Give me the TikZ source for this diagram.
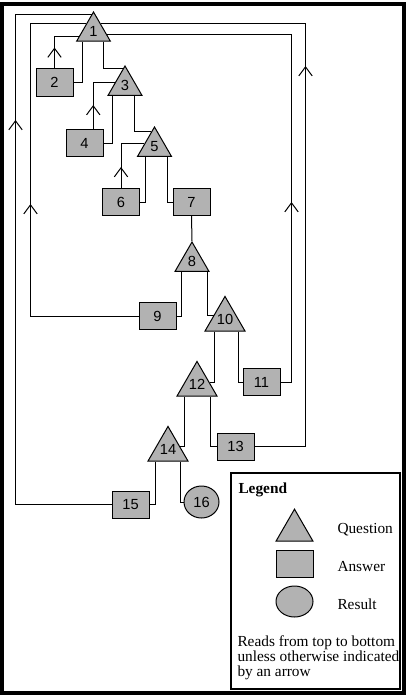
\documentclass[tikz,border=0pt]{standalone}
\usepackage{fontspec}
\setmainfont{Liberation Serif}
\newfontfamily\numfont{Liberation Sans}
\usepackage{tikz}
\usetikzlibrary{arrows.meta, positioning, shapes.geometric, calc, decorations.markings}

\tikzset{
    question/.style={regular polygon, regular polygon sides=3, draw, fill=gray!60,
        inner sep=0pt, minimum size=29.25pt, font=\numfont\fontsize{11}{13}\selectfont},
    answer/.style={rectangle, draw, fill=gray!60, inner sep=0pt,
        minimum width=27.75pt, minimum height=20.25pt, font=\numfont\fontsize{11}{13}\selectfont},
    result/.style={ellipse, draw, fill=gray!60, inner sep=0pt,
        minimum width=26.25pt, minimum height=24pt, font=\numfont\fontsize{11}{13}\selectfont},
    uparrow/.style={postaction={decorate, decoration={markings,
        mark=at position #1 with {\arrow{Straight Barb[length=6.75pt, width=10pt]}}}}},
    legendtext/.style={anchor=base west, inner sep=0pt, font=\fontsize{11.5}{11.25}\selectfont},
}

\begin{document}
\begin{tikzpicture}[x=0.75pt, y=-0.75pt, line width=0.75pt]
    % Page and frame (pixel units, y downwards)
    \useasboundingbox (0,0) rectangle (408,699);
    \draw[line width=3pt] (2,4) rectangle (403.5,692.5);

    % Questions
    \node[question] (t1)  at (93.5,31.5)  {1};
    \node[question] (t3)  at (125,85.5)   {3};
    \node[question] (t5)  at (154.5,146.5) {5};
    \node[question] (t8)  at (192,261.5)  {8};
    \node[question] (t10) at (225,319.5)  {10};
    \node[question] (t12) at (197,384.5)  {12};
    \node[question] (t14) at (168,449.5)  {14};

    % Answers and result
    \node[answer] (b2)  at (54.5,82.5)  {2};
    \node[answer] (b4)  at (84.5,143)   {4};
    \node[answer] (b6)  at (121,202)    {6};
    \node[answer] (b7)  at (191.5,202)  {7};
    \node[answer] (b9)  at (157.5,316)  {9};
    \node[answer] (b11) at (261.5,382)  {11};
    \node[answer] (b13) at (235.5,446.5) {13};
    \node[answer] (b15) at (130.5,504.5) {15};
    \node[result] (c16) at (201.5,502)  {16};

    % Entry points on the sides of question 1
    \coordinate (in15) at ($(t1.corner 2)!0.9!(t1.corner 1)$);
    \coordinate (in9)  at ($(t1.corner 2)!0.59!(t1.corner 1)$);
    \coordinate (in13) at ($(t1.corner 3)!0.59!(t1.corner 1)$);
    \coordinate (in11) at ($(t1.corner 3)!0.25!(t1.corner 1)$);

    % Downward connectors
    \draw ($(t1.corner 2)!0.19!(t1.corner 3)$) |- (b2.east);
    \draw ($(t1.corner 2)!0.78!(t1.corner 3)$) |- ($(t3.corner 2)!0.9!(t3.corner 1)$);
    \draw ($(t3.corner 2)!0.15!(t3.corner 3)$) |- (b4.east);
    \draw ($(t3.corner 2)!0.77!(t3.corner 3)$) |- ($(t5.corner 2)!0.83!(t5.corner 1)$);
    \draw ($(t5.corner 2)!0.25!(t5.corner 3)$) |- (b6.east);
    \draw ($(t5.corner 2)!0.86!(t5.corner 3)$) |- (b7.west);
    \draw (b7.south) -- (t8.corner 1);
    \draw ($(t8.corner 2)!0.2!(t8.corner 3)$) |- (b9.east);
    \draw ($(t8.corner 2)!0.94!(t8.corner 3)$) |- ($(t10.corner 2)!0.45!(t10.corner 1)$);
    \draw ($(t10.corner 2)!0.26!(t10.corner 3)$) |- ($(t12.corner 3)!0.38!(t12.corner 1)$);
    \draw ($(t10.corner 2)!0.82!(t10.corner 3)$) |- (b11.west);
    \draw ($(t12.corner 2)!0.2!(t12.corner 3)$) |- ($(t14.corner 3)!0.42!(t14.corner 1)$);
    \draw ($(t12.corner 2)!0.83!(t12.corner 3)$) |- (b13.west);
    \draw ($(t14.corner 2)!0.2!(t14.corner 3)$) |- (b15.east);
    \draw ($(t14.corner 2)!0.8!(t14.corner 3)$) |- (c16.west);

    % Upward connectors
    \draw[uparrow=15.75pt] (b2.north) |- ($(t1.corner 2)!0.18!(t1.corner 1)$);
    \draw[uparrow=18pt] ($(b4.north west)!0.73!(b4.north east)$) |- ($(t3.corner 2)!0.42!(t3.corner 1)$);
    \draw[uparrow=15.75pt] (b6.north) |- ($(t5.corner 2)!0.42!(t5.corner 1)$);
    \draw[uparrow=360.4pt] (b15.west) -- ++(-96,0) |- (in15);
    \draw[uparrow=165pt] (b9.west) -- ++(-108,0) |- (in9);
    \draw[uparrow=323.6pt] (b13.east) -- ++(51,0) |- (in13);
    \draw[uparrow=143.25pt] (b11.east) -- ++(11,0) |- (in11);

    % Legend
    \draw[line width=2pt] (231,473) rectangle (400,689);
    \node[legendtext, font=\fontsize{11.5}{11.25}\selectfont\bfseries] (legend) at (238,493) {Legend};
    \node[question, minimum size=32pt] (lq) at (294.5,530.5) {};
    \node[answer] (la) at (294.5,563.5) {};
    \node[result, minimum width=27.75pt, minimum height=23.25pt] (lr) at (294.5,601.5) {};
    \node[legendtext] (lqt) at (337,533) {Question};
    \node[legendtext] (lat) at (337,571) {Answer};
    \node[legendtext] (lrt) at (337,609) {Result};
    \node[legendtext] (note1) at (237,646.5) {Reads from top to bottom};
    \node[legendtext] (note2) at (237,661.5) {unless otherwise indicated};
    \node[legendtext] (note3) at (237,676.5) {by an arrow};
\end{tikzpicture}
\end{document}
